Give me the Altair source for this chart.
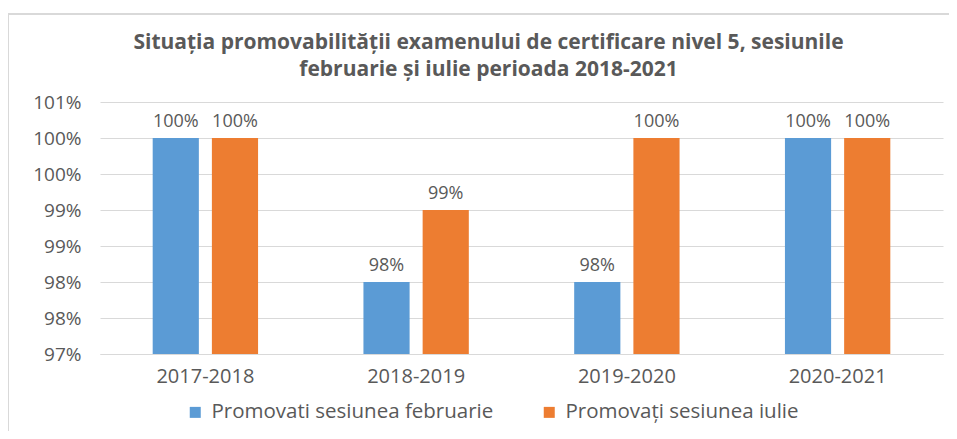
import altair as alt
import pandas as pd

years = ["2017-2018", "2018-2019", "2019-2020", "2020-2021"]
series = ["Promovati sesiunea februarie", "Promovați sesiunea iulie"]
feb = [100, 98, 98, 100]
iul = [100, 99, 100, 100]
y_ticks = [97, 97.5, 98, 98.5, 99, 99.5, 100, 100.5]

rows = []
for i, y in enumerate(years):
    rows.append({"an": y, "serie": series[0], "val": feb[i]})
    rows.append({"an": y, "serie": series[1], "val": iul[i]})
df = pd.DataFrame(rows)

FONT = "Open Sans"
GREY = "#595959"
colors = ["#5B9BD5", "#ED7D31"]

x_axis = alt.Axis(labelAngle=0, labelFontSize=20, labelColor=GREY, labelFont=FONT,
                  labelPadding=12, ticks=False, domainColor="#d9d9d9", domainWidth=1)
y_axis = alt.Axis(values=y_ticks, labelExpr="round(datum.value) + '%'",
                  labelFontSize=19, labelColor=GREY, labelFont=FONT, labelPadding=19,
                  labelOverlap=False, ticks=False, domain=False,
                  gridColor="#d9d9d9", gridWidth=1)
xsc = alt.Scale(paddingInner=0.5, paddingOuter=0.25)
ysc = alt.Scale(domain=[97, 100.5], zero=False, nice=False)
xo = alt.XOffset("serie:N", sort=series, scale=alt.Scale(paddingInner=0.22, paddingOuter=0))

bars = alt.Chart(df).mark_bar().encode(
    x=alt.X("an:N", sort=years, title=None, scale=xsc, axis=x_axis),
    xOffset=xo,
    y=alt.Y("val:Q", title=None, scale=ysc, axis=y_axis),
    y2=alt.datum(97),
    color=alt.Color("serie:N", sort=series, scale=alt.Scale(domain=series, range=colors),
                    legend=alt.Legend(title=None, orient="none", legendX=85, legendY=300,
                                      direction="horizontal", columns=2, columnPadding=45,
                                      symbolType="square", symbolSize=121, symbolStrokeWidth=0,
                                      labelFontSize=20.5, labelColor=GREY, labelFont=FONT,
                                      labelOffset=6, labelLimit=0)),
)

labels = alt.Chart(df).transform_calculate(lbl="format(datum.val, '.0f') + '%'").mark_text(
    baseline="bottom", dy=-7, fontSize=18, color=GREY, font=FONT).encode(
    x=alt.X("an:N", sort=years, title=None, scale=xsc, axis=x_axis),
    xOffset=xo,
    y=alt.Y("val:Q", title=None, scale=ysc, axis=y_axis),
    text="lbl:N")

frame = alt.Chart(df).mark_rect(fill=None, stroke="#d9d9d9", strokeWidth=2, clip=False).encode(
    x=alt.value(-92), x2=alt.value(880), y=alt.value(-88), y2=alt.value(360))

chart = alt.layer(frame, bars, labels).properties(
    width=843, height=252,
    autosize=alt.AutoSizeParams(type="none"),
    padding={"left": 92, "top": 94, "right": 6, "bottom": 77},
    title=alt.Title(["Situația promovabilității  examenului de certificare nivel 5, sesiunile",
                     "februarie și iulie perioada 2018-2021"],
                    font=FONT, fontSize=21, fontWeight="bold", color=GREY, anchor="middle",
                    dx=-33, dy=67, offset=0, lineHeight=27),
).configure_view(stroke=None)

chart.save("out.html", embed_options={"renderer": "svg", "actions": False})
